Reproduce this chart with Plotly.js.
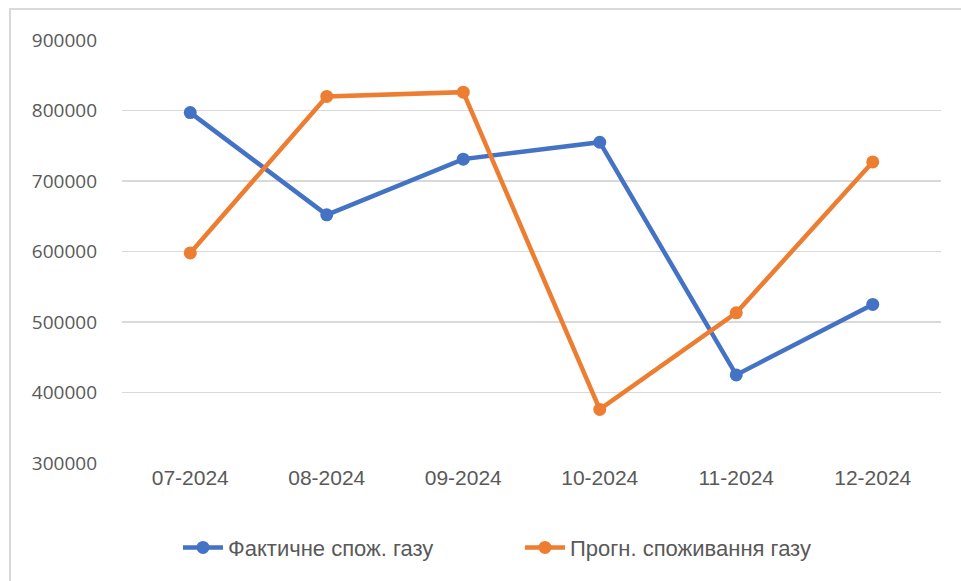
<!DOCTYPE html>
<html>
<head>
<meta charset="utf-8">
<script src="https://cdn.plot.ly/plotly-3.0.1.min.js"></script>
<style>html,body{margin:0;padding:0;background:#fff;}#chart{width:961px;height:581px;}</style>
</head>
<body>
<div id="chart"></div>
<script>
const months = ["07-2024", "08-2024", "09-2024", "10-2024", "11-2024", "12-2024"];
const actual = [797000, 652000, 731000, 755000, 425000, 525000];
const forecast = [598000, 820000, 826000, 376000, 513000, 727000];
const seriesNames = ["Фактичне спож. газу", "Прогн. споживання газу"];
const yTicks = [300000, 400000, 500000, 600000, 700000, 800000, 900000];

const W = 961, H = 581, L = 122, R = 20, T = 40, B = 118;
const pw = W - L - R, ph = H - T - B;

const traces = [
  {x: months, y: actual, name: seriesNames[0], type: "scatter", mode: "lines+markers",
   line: {color: "#4472C4", width: 4.5}, marker: {color: "#4472C4", size: 13}},
  {x: months, y: forecast, name: seriesNames[1], type: "scatter", mode: "lines+markers",
   line: {color: "#ED7D31", width: 4.5}, marker: {color: "#ED7D31", size: 13}}
];

const layout = {
  width: W, height: H,
  margin: {l: L, r: R, t: T, b: B},
  paper_bgcolor: "#fff", plot_bgcolor: "#fff",
  showlegend: true,
  xaxis: {type: "category", range: [-0.5, 5.5], showgrid: false, zeroline: false, showline: false, ticks: "",
    tickfont: {family: "Liberation Sans Narrow, Arial Narrow, sans-serif", size: 21, color: "#595959"}},
  yaxis: {range: [300000, 900000], tickvals: yTicks, ticktext: yTicks.map(String),
    showgrid: true, gridcolor: "#d9d9d9", gridwidth: 1.5, zeroline: false, showline: false, ticks: "",
    ticklabelstandoff: 24,
    tickfont: {family: "Open Sans, sans-serif", size: 19, color: "#595959"}},
  legend: {orientation: "h", x: (178 - L) / pw, xanchor: "left", y: -0.2, yanchor: "middle",
    font: {family: "Liberation Sans Narrow, Arial Narrow, sans-serif", size: 22, color: "#595959"},
    itemwidth: 40, entrywidth: 287, entrywidthmode: "pixels", traceorder: "normal"},
  shapes: [{type: "rect", xref: "paper", yref: "paper",
    x0: (10 - L) / pw, x1: (W + 10 - L) / pw, y0: -(H + 10 - T - ph) / ph, y1: (ph + T - 9) / ph,
    line: {color: "#d9d9d9", width: 2}, fillcolor: "rgba(0,0,0,0)", layer: "below"}]
};

Plotly.newPlot("chart", traces, layout, {displayModeBar: false, staticPlot: true});
</script>
</body>
</html>
